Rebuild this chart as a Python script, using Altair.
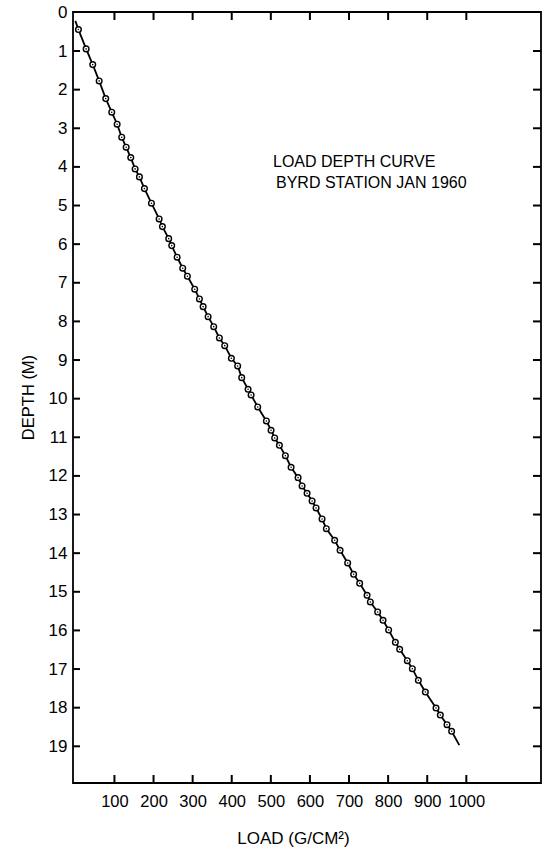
import altair as alt
import pandas as pd

# Observed points (load g/cm^2, depth m)
load = [7.9, 27.6, 44.5, 60.9, 77.7, 93.1, 106.9, 118.6, 129.9, 141.7, 152.9, 163.9, 176.7,
        194.6, 214.3, 222.7, 238.8, 246.5, 260.3, 274.6, 286.6, 305.3, 317.3, 326.8, 339.6,
        353.9, 368.4, 382.0, 399.1, 415.2, 425.5, 441.8, 449.5, 466.4, 488.6, 500.6, 509.8,
        521.9, 537.2, 551.8, 569.7, 579.9, 592.7, 605.5, 615.7, 631.0, 642.0, 663.3, 677.1,
        696.5, 711.8, 727.2, 746.1, 754.5, 773.2, 787.0, 801.3, 818.5, 829.5, 849.1, 861.9,
        877.3, 895.2, 922.5, 933.5, 950.6, 962.4]
depth = [0.445, 0.945, 1.352, 1.774, 2.232, 2.584, 2.895, 3.231, 3.490, 3.760, 4.052, 4.259, 4.562,
         4.940, 5.347, 5.546, 5.857, 6.038, 6.339, 6.623, 6.831, 7.167, 7.418, 7.618, 7.877,
         8.136, 8.428, 8.628, 8.954, 9.153, 9.456, 9.757, 9.904, 10.215, 10.577, 10.818, 11.018,
         11.207, 11.476, 11.776, 12.045, 12.261, 12.450, 12.649, 12.830, 13.115, 13.366, 13.667, 13.925,
         14.254, 14.547, 14.780, 15.091, 15.264, 15.523, 15.738, 15.989, 16.308, 16.489, 16.784, 16.991,
         17.291, 17.595, 18.009, 18.190, 18.441, 18.612]

# curve end points
curve_start = (0.0, 0.22)
curve_end = (982.0, 18.97)

x_ticks = [100, 200, 300, 400, 500, 600, 700, 800, 900, 1000]
y_ticks = list(range(0, 20))
y_inner_ticks = list(range(1, 20))

annotation = ["LOAD DEPTH CURVE", "BYRD STATION JAN 1960"]
x_title = "LOAD (G/CM\u00b2)"
y_title = "DEPTH (M)"

W, H = 468, 771
FONT = "Liberation Sans"

pts = pd.DataFrame({"load": load, "depth": depth})
curve = pd.DataFrame({
    "load": [curve_start[0]] + load + [curve_end[0]],
    "depth": [curve_start[1]] + depth + [curve_end[1]],
})
xt = pd.DataFrame({"v": x_ticks})
yt = pd.DataFrame({"d": y_inner_ticks})

xscale = alt.Scale(domain=[-6, 1191], nice=False, zero=False)
yscale = alt.Scale(domain=[-0.01, 19.95], reverse=True, nice=False, zero=False)

xaxis = alt.Axis(values=x_ticks, format="d", title=x_title, grid=False, domain=False, tickSize=0,
                 labelPadding=10, labelFontSize=16.5, labelFont=FONT, labelColor="black",
                 titleFont=FONT, titleFontSize=17, titleFontWeight="normal", titleColor="black",
                 titleX=220, titleY=55, titleBaseline="middle", titleAlign="center")
yaxis = alt.Axis(values=y_ticks, format="d", title=y_title, grid=False, domain=False, tickSize=0,
                 labelPadding=6, labelFontSize=17, labelFont=FONT, labelColor="black",
                 titleFont=FONT, titleFontSize=16.5, titleFontWeight="normal", titleColor="black",
                 titleX=-45, titleY=385, titleBaseline="middle", titleAlign="center", titleAngle=-90)

TL = 8
RULE = dict(color="black", strokeWidth=2)
bottom_ticks = alt.Chart(xt).mark_rule(**RULE).encode(
    x=alt.X("v:Q", scale=xscale, axis=xaxis), y=alt.value(H - TL), y2=alt.value(H))
top_ticks = alt.Chart(xt).mark_rule(**RULE).encode(
    x=alt.X("v:Q", scale=xscale), y=alt.value(0), y2=alt.value(TL))
left_ticks = alt.Chart(yt).mark_rule(**RULE).encode(
    y=alt.Y("d:Q", scale=yscale, axis=yaxis), x=alt.value(0), x2=alt.value(TL - 1))
right_ticks = alt.Chart(yt).mark_rule(**RULE).encode(
    y=alt.Y("d:Q", scale=yscale), x=alt.value(W - TL), x2=alt.value(W))

line = alt.Chart(curve).mark_line(color="black", strokeWidth=1.8).encode(
    x=alt.X("load:Q", scale=xscale),
    y=alt.Y("depth:Q", scale=yscale),
    order="depth:Q",
)

circles = alt.Chart(pts).mark_point(shape="circle", filled=True, fill="white", stroke="black",
                                    strokeWidth=1.4, size=32, opacity=1).encode(
    x=alt.X("load:Q", scale=xscale), y=alt.Y("depth:Q", scale=yscale))

dots = alt.Chart(pts).mark_point(shape="circle", filled=True, color="black", size=2.5, opacity=1).encode(
    x=alt.X("load:Q", scale=xscale), y=alt.Y("depth:Q", scale=yscale))

t1 = alt.Chart(pd.DataFrame({"t": [annotation[0]]})).mark_text(
    align="left", baseline="middle", font=FONT, fontSize=16, color="black").encode(
    text="t:N", x=alt.value(200), y=alt.value(150))
t2 = alt.Chart(pd.DataFrame({"t": [annotation[1]]})).mark_text(
    align="left", baseline="middle", font=FONT, fontSize=16, color="black").encode(
    text="t:N", x=alt.value(203), y=alt.value(171))

chart = alt.layer(bottom_ticks, left_ticks, top_ticks, right_ticks, line, circles, dots, t1, t2).properties(
    width=W, height=H,
    padding={"left": 73, "top": 12, "right": 5, "bottom": 77},
    autosize=alt.AutoSizeParams(type="none"),
    background="white",
).configure_view(stroke="black", strokeWidth=1.8)

chart.save("out.html", embed_options={"renderer": "svg", "actions": False})
